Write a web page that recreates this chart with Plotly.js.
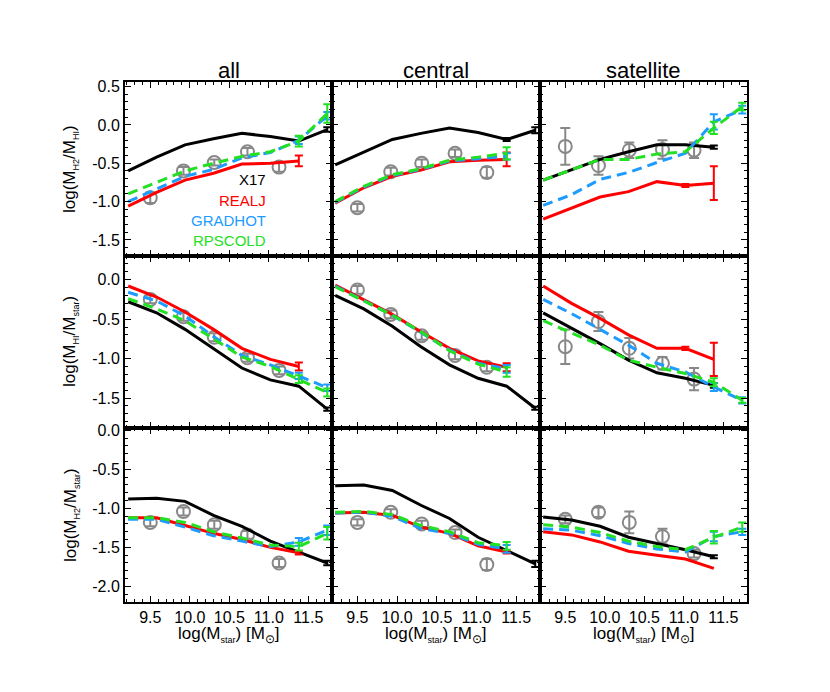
<!DOCTYPE html>
<html>
<head>
<meta charset="utf-8">
<script src="https://cdn.plot.ly/plotly-3.0.1.min.js"></script>
<style>
body{margin:0;background:#fff;}
#plot{width:830px;height:692px;}
</style>
</head>
<body>
<div id="plot"></div>
<script>
const FONT = 'Liberation Sans, Arial, Helvetica, sans-serif';

// x positions (log Mstar) of model bins and of observed points
const xModel = [9.22, 9.58, 9.94, 10.30, 10.66, 11.02, 11.38, 11.74];
const xObs = [9.50, 9.92, 10.31, 10.73, 11.13];

const columnNames = ['all', 'central', 'satellite'];
const modelNames = ['X17', 'REALJ', 'GRADHOT', 'RPSCOLD'];

const xTickVals = [9.5, 10.0, 10.5, 11.0, 11.5];
const xTickText = ['9.5', '10.0', '10.5', '11.0', '11.5'];
const yTickValsH2HI = [0.5, 0.0, -0.5, -1.0, -1.5];
const yTickTextH2HI = ['0.5', '0.0', '-0.5', '-1.0', '-1.5'];
const yTickValsHI = [0.0, -0.5, -1.0, -1.5];
const yTickTextHI = ['0.0', '-0.5', '-1.0', '-1.5'];
const yTickValsH2 = [0.0, -0.5, -1.0, -1.5, -2.0];
const yTickTextH2 = ['0.0', '-0.5', '-1.0', '-1.5', '-2.0'];

// ---- log(MH2/MHI) ----
const h2hiAllX17     = [-0.60, -0.42, -0.26, -0.18, -0.11, -0.15, -0.21, -0.06];
const h2hiAllRealj   = [-1.06, -0.88, -0.72, -0.63, -0.51, -0.50, -0.47, null];
const h2hiAllGradhot = [-1.00, -0.83, -0.67, -0.58, -0.43, -0.36, -0.20, 0.12];
const h2hiAllRpscold = [-0.90, -0.75, -0.60, -0.50, -0.41, -0.35, -0.21, 0.15];
const h2hiAllErr     = [[0,0,0,0,0,0,0,0.03], [0,0,0,0,0,0,0.07,0], [0,0,0,0,0,0,0.05,0.05], [0,0,0,0,0,0,0.07,0.12]];
const h2hiAllObs     = [-0.95, -0.60, -0.49, -0.35, -0.55];
const h2hiAllObsErr  = [0.07, 0.05, 0.04, 0.05, 0.06];

const h2hiCenX17     = [-0.52, -0.35, -0.19, -0.11, -0.04, -0.10, -0.19, -0.07];
const h2hiCenRealj   = [-1.02, -0.82, -0.67, -0.59, -0.48, -0.46, -0.45, null];
const h2hiCenGradhot = [-1.01, -0.81, -0.66, -0.58, -0.47, -0.44, -0.41, null];
const h2hiCenRpscold = [-1.00, -0.80, -0.65, -0.57, -0.46, -0.42, -0.37, null];
const h2hiCenErr     = [[0,0,0,0,0,0,0.02,0.04], [0,0,0,0,0,0,0.09,0], [0,0,0,0,0,0,0.04,0], [0,0,0,0,0,0,0.08,0]];
const h2hiCenObs     = [-1.08, -0.61, -0.50, -0.37, -0.62];
const h2hiCenObsErr  = [0.05, 0.05, 0.05, 0.05, 0.07];

const h2hiSatX17     = [-0.72, -0.59, -0.45, -0.35, -0.26, -0.26, -0.29, null];
const h2hiSatRealj   = [-1.23, -1.08, -0.94, -0.87, -0.74, -0.79, -0.76, null];
const h2hiSatGradhot = [-1.05, -0.91, -0.71, -0.62, -0.49, -0.37, 0.04, 0.20];
const h2hiSatRpscold = [-0.72, -0.58, -0.45, -0.45, -0.38, -0.35, -0.04, 0.24];
const h2hiSatErr     = [[0,0,0,0,0,0,0.02,0], [0,0,0,0,0,0.02,0.22,0], [0,0,0,0,0,0,0.10,0.05], [0,0,0,0,0,0,0.08,0.05]];
const h2hiSatObs     = [-0.28, -0.53, -0.33, -0.32, -0.33];
const h2hiSatObsErr  = [0.24, 0.12, 0.10, 0.12, 0.10];

// ---- log(MHI/Mstar) ----
const hiAllX17     = [-0.28, -0.42, -0.63, -0.88, -1.12, -1.27, -1.35, -1.64];
const hiAllRealj   = [-0.08, -0.22, -0.41, -0.63, -0.87, -1.01, -1.10, null];
const hiAllGradhot = [-0.16, -0.27, -0.46, -0.72, -0.96, -1.08, -1.22, -1.37];
const hiAllRpscold = [-0.24, -0.37, -0.52, -0.75, -0.98, -1.10, -1.26, -1.43];
const hiAllErr     = [[0,0,0,0,0,0,0,0.02], [0,0,0,0,0,0,0.05,0], [0,0,0,0,0,0,0.04,0.04], [0,0,0,0,0,0,0.05,0.05]];
const hiAllObs     = [-0.25, -0.47, -0.73, -0.99, -1.15];
const hiAllObsErr  = [0.05, 0.05, 0.05, 0.05, 0.05];

const hiCenX17     = [-0.20, -0.37, -0.59, -0.85, -1.08, -1.25, -1.35, -1.63];
const hiCenRealj   = [-0.07, -0.26, -0.44, -0.66, -0.87, -1.03, -1.11, null];
const hiCenGradhot = [-0.08, -0.26, -0.45, -0.67, -0.89, -1.06, -1.13, null];
const hiCenRpscold = [-0.09, -0.27, -0.45, -0.66, -0.90, -1.07, -1.17, null];
const hiCenErr     = [[0,0,0,0,0,0,0,0.02], [0,0,0,0,0,0,0.05,0], [0,0,0,0,0,0,0.05,0], [0,0,0,0,0,0,0.06,0]];
const hiCenObs     = [-0.13, -0.44, -0.71, -0.96, -1.11];
const hiCenObsErr  = [0.05, 0.05, 0.05, 0.05, 0.05];

const hiSatX17     = [-0.42, -0.61, -0.81, -1.02, -1.18, -1.25, -1.34, null];
const hiSatRealj   = [-0.08, -0.30, -0.49, -0.70, -0.87, -0.87, -1.01, null];
const hiSatGradhot = [-0.25, -0.43, -0.63, -0.83, -1.06, -1.17, -1.36, -1.53];
const hiSatRpscold = [-0.52, -0.68, -0.83, -1.02, -1.11, -1.19, -1.30, -1.53];
const hiSatErr     = [[0,0,0,0,0,0,0.03,0], [0,0,0,0,0,0.02,0.21,0], [0,0,0,0,0,0,0.05,0.04], [0,0,0,0,0,0,0.05,0.03]];
const hiSatObs     = [-0.85, -0.53, -0.87, -1.06, -1.26];
const hiSatObsErr  = [0.22, 0.12, 0.13, 0.08, 0.14];

// ---- log(MH2/Mstar) ----
const h2AllX17     = [-0.88, -0.87, -0.91, -1.09, -1.23, -1.42, -1.56, -1.70];
const h2AllRealj   = [-1.12, -1.12, -1.22, -1.32, -1.40, -1.50, -1.57, null];
const h2AllGradhot = [-1.14, -1.14, -1.24, -1.35, -1.42, -1.49, -1.43, -1.28];
const h2AllRpscold = [-1.12, -1.12, -1.18, -1.30, -1.38, -1.47, -1.49, -1.32];
const h2AllErr     = [[0,0,0,0,0,0,0,0.03], [0,0,0,0,0,0,0.02,0], [0,0,0,0,0,0,0.05,0.06], [0,0,0,0,0,0,0.05,0.08]];
const h2AllObs     = [-1.18, -1.04, -1.21, -1.34, -1.70];
const h2AllObsErr  = [0.05, 0.05, 0.05, 0.05, 0.05];

const h2CenX17     = [-0.71, -0.70, -0.77, -0.96, -1.13, -1.37, -1.54, -1.71];
const h2CenRealj   = [-1.06, -1.05, -1.09, -1.24, -1.32, -1.48, -1.56, null];
const h2CenGradhot = [-1.06, -1.05, -1.10, -1.26, -1.32, -1.46, -1.52, null];
const h2CenRpscold = [-1.05, -1.04, -1.08, -1.22, -1.30, -1.44, -1.48, null];
const h2CenErr     = [[0,0,0,0,0,0,0,0.04], [0,0,0,0,0,0,0.02,0], [0,0,0,0,0,0,0.05,0], [0,0,0,0,0,0,0.05,0]];
const h2CenObs     = [-1.18, -1.05, -1.20, -1.31, -1.72];
const h2CenObsErr  = [0.04, 0.04, 0.04, 0.04, 0.07];

const h2SatX17     = [-1.11, -1.15, -1.23, -1.37, -1.45, -1.53, -1.62, null];
const h2SatRealj   = [-1.30, -1.34, -1.43, -1.55, -1.60, -1.65, -1.77, null];
const h2SatGradhot = [-1.26, -1.28, -1.35, -1.45, -1.52, -1.56, -1.36, -1.30];
const h2SatRpscold = [-1.21, -1.24, -1.31, -1.42, -1.49, -1.53, -1.37, -1.24];
const h2SatErr     = [[0,0,0,0,0,0,0.02,0], [0,0,0,0,0,0,0,0], [0,0,0,0,0,0,0.06,0.04], [0,0,0,0,0,0,0.08,0.06]];
const h2SatObs     = [-1.14, -1.05, -1.18, -1.36, -1.58];
const h2SatObsErr  = [0.05, 0.06, 0.14, 0.10, 0.05];

const panels = [
    [h2hiAllX17, h2hiAllRealj, h2hiAllGradhot, h2hiAllRpscold, h2hiAllErr, h2hiAllObs, h2hiAllObsErr],
    [h2hiCenX17, h2hiCenRealj, h2hiCenGradhot, h2hiCenRpscold, h2hiCenErr, h2hiCenObs, h2hiCenObsErr],
    [h2hiSatX17, h2hiSatRealj, h2hiSatGradhot, h2hiSatRpscold, h2hiSatErr, h2hiSatObs, h2hiSatObsErr],
    [hiAllX17, hiAllRealj, hiAllGradhot, hiAllRpscold, hiAllErr, hiAllObs, hiAllObsErr],
    [hiCenX17, hiCenRealj, hiCenGradhot, hiCenRpscold, hiCenErr, hiCenObs, hiCenObsErr],
    [hiSatX17, hiSatRealj, hiSatGradhot, hiSatRpscold, hiSatErr, hiSatObs, hiSatObsErr],
    [h2AllX17, h2AllRealj, h2AllGradhot, h2AllRpscold, h2AllErr, h2AllObs, h2AllObsErr],
    [h2CenX17, h2CenRealj, h2CenGradhot, h2CenRpscold, h2CenErr, h2CenObs, h2CenObsErr],
    [h2SatX17, h2SatRealj, h2SatGradhot, h2SatRpscold, h2SatErr, h2SatObs, h2SatObsErr]
];

const modelColors = ['#000000', '#ff0000', '#1e9bff', '#22e022'];
const modelDash = ['solid', 'solid', '10px,6px', '10px,6px'];
const obsColor = '#888888';

const W = 830, H = 692;
const colPx = [[125, 332], [332, 540], [540, 747]];
const rowPx = [[82, 256], [256, 428], [428, 602]];
const yRanges = [[-1.71, 0.56], [-1.88, 0.30], [-2.2, 0.03]];
const yTicks = [[yTickValsH2HI, yTickTextH2HI], [yTickValsHI, yTickTextHI], [yTickValsH2, yTickTextH2]];
const yTitles = [
    'log(M<sub><span style="font-size:9px">H2</span></sub>/M<sub><span style="font-size:9px">HI</span></sub>)',
    'log(M<sub><span style="font-size:9px">HI</span></sub>/M<sub><span style="font-size:9px">star</span></sub>)',
    'log(M<sub><span style="font-size:9px">H2</span></sub>/M<sub><span style="font-size:9px">star</span></sub>)'
];
const xTitle = 'log(M<sub><span style="font-size:9px">star</span></sub>) [M<sub>⊙</sub>]';

// errors of 0 mean "no error bar"
function errArr(a){
    return a.map(v => v ? v : NaN);
}

let data = [];
let layout = {
    width: W, height: H,
    margin: {l: 0, r: 0, t: 0, b: 0},
    paper_bgcolor: 'white',
    plot_bgcolor: 'white',
    showlegend: false,
    font: {family: FONT, color: 'black'},
    annotations: []
};

panels.forEach((p, k) => {
    let row = Math.floor(k / 3), col = k % 3;
    let n = k + 1;
    let xa = 'x' + (n > 1 ? n : ''), ya = 'y' + (n > 1 ? n : '');

    data.push({
        x: xObs, y: p[5], xaxis: xa, yaxis: ya,
        mode: 'markers', name: 'obs',
        marker: {symbol: 'circle-open', size: 13, color: obsColor, line: {width: 2, color: obsColor}},
        error_y: {type: 'data', array: p[6], visible: true, color: obsColor, thickness: 2, width: 5}
    });
    for (let m = 0; m < 4; m++) {
        data.push({
            x: xModel, y: p[m], xaxis: xa, yaxis: ya,
            mode: 'lines', name: modelNames[m],
            line: {color: modelColors[m], width: 3, dash: modelDash[m]},
            error_y: {type: 'data', array: errArr(p[4][m]), visible: true, color: modelColors[m], thickness: 2, width: 4}
        });
    }

    let common = {
        showline: true, linewidth: 2, linecolor: 'black', mirror: 'allticks',
        ticks: 'inside', ticklen: 6, tickwidth: 1, tickcolor: 'black',
        showgrid: false, zeroline: false, tickmode: 'array',
        minor: {ticks: 'inside', ticklen: 3, tickwidth: 1, tickcolor: 'black', tick0: 0, dtick: 0.1, showgrid: false},
        tickfont: {family: FONT, size: 16, color: 'black'}
    };
    layout['xaxis' + (n > 1 ? n : '')] = Object.assign({}, common, {
        anchor: ya,
        domain: [colPx[col][0] / W, colPx[col][1] / W],
        range: [9.18, 11.80],
        tickvals: xTickVals, ticktext: xTickText,
        showticklabels: row == 2
    });
    layout['yaxis' + (n > 1 ? n : '')] = Object.assign({}, common, {
        anchor: xa,
        domain: [1 - rowPx[row][1] / H, 1 - rowPx[row][0] / H],
        range: yRanges[row],
        tickvals: yTicks[row][0], ticktext: yTicks[row][1],
        showticklabels: col == 0
    });
});

columnNames.forEach((name, c) => {
    let cx = (colPx[c][0] + colPx[c][1]) / 2 / W;
    layout.annotations.push({
        text: name, xref: 'paper', yref: 'paper', x: cx, y: 1 - 70 / H,
        xanchor: 'center', yanchor: 'middle', showarrow: false,
        font: {size: 22, family: FONT, color: 'black'}
    });
    layout.annotations.push({
        text: xTitle, xref: 'paper', yref: 'paper', x: cx, y: 1 - 635 / H,
        xanchor: 'center', yanchor: 'middle', showarrow: false,
        font: {size: 17, family: FONT, color: 'black'}
    });
});

yTitles.forEach((t, r) => {
    layout.annotations.push({
        text: t, xref: 'paper', yref: 'paper', x: 71 / W, y: 1 - (rowPx[r][0] + rowPx[r][1]) / 2 / H,
        xanchor: 'center', yanchor: 'middle', textangle: -90, showarrow: false,
        font: {size: 17, family: FONT, color: 'black'}
    });
});

// model labels inside the first panel
const labelY = [180, 200.5, 220.5, 240];
modelNames.forEach((name, m) => {
    layout.annotations.push({
        text: name, xref: 'paper', yref: 'paper', x: 268 / W, y: 1 - labelY[m] / H,
        xanchor: 'right', yanchor: 'middle', showarrow: false,
        font: {size: 15, family: FONT, color: modelColors[m]}
    });
});

Plotly.newPlot('plot', data, layout, {staticPlot: true});
</script>
</body>
</html>
